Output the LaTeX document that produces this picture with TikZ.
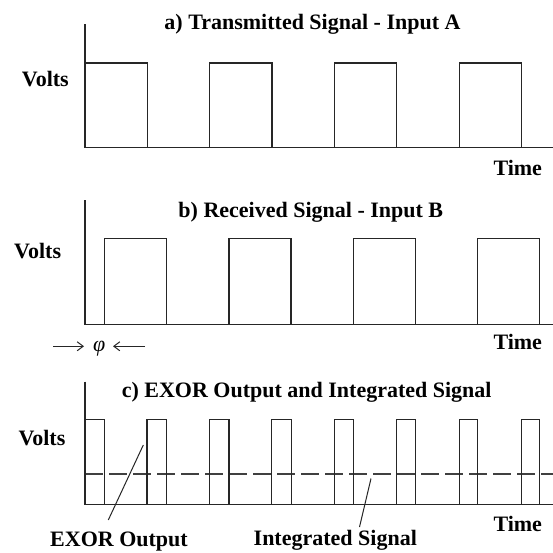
\documentclass[tikz,border=0pt]{standalone}
\usepackage{fontspec}
\setmainfont{Liberation Serif}
\usetikzlibrary{arrows.meta}
\begin{document}
\begin{tikzpicture}[x=1pt,y=-1pt,
  wave/.style={line width=1.2pt,draw=black!85,line join=miter},
  lbl/.style={font=\bfseries\fontsize{22}{26}\selectfont,inner sep=0pt,text=black},
  ptr/.style={line width=1pt,draw=black!85},
  dashline/.style={line width=1.2pt,draw=black!75,dash pattern=on 18pt off 6pt},
  phiarrow/.style={line width=1pt,draw=black!85,-{Straight Barb[length=6pt,width=9pt]}}]
\useasboundingbox (0,0) rectangle (553,552);
\fill[white] (0,0) rectangle (553,552);

% ---------- Panel a ----------
\draw[wave] (85,24) -- (85,147.7) -- (553,147.7);
\foreach \s in {85,209.7,334.4,459.1}
  \draw[wave] (\s,147.7) |- (\s+62.2,63) -- (\s+62.2,147.7);
\node[lbl,anchor=base] (titleA) at (312.5,29.3) {a) Transmitted Signal - Input A};
\node[lbl,anchor=base west] (voltsA) at (21.7,86) {Volts};
\node[lbl,anchor=base west] (timeA) at (493.3,175) {Time};

% ---------- Panel b ----------
\draw[wave] (85,200) -- (85,324.3) -- (553,324.3);
\foreach \s in {104.5,228.9,353.3,477.7}
  \draw[wave] (\s,324.3) |- (\s+62.1,238.8) -- (\s+62.1,324.3);
\node[lbl,anchor=base] (titleB) at (310.8,217) {b) Received Signal - Input B};
\node[lbl,anchor=base west] (voltsB) at (14,258) {Volts};
\node[lbl,anchor=base west] (timeB) at (493.3,349.5) {Time};
\node[font=\itshape\fontsize{22}{26}\selectfont,inner sep=0pt,anchor=base] (phi) at (99.3,351) {φ};
\coordinate (phiLa) at (53.3,346.3);
\coordinate (phiLb) at (84,346.3);
\coordinate (phiRa) at (145,346.3);
\coordinate (phiRb) at (113,346.3);
\draw[phiarrow] (phiLa) -- (phiLb);
\draw[phiarrow] (phiRa) -- (phiRb);

% ---------- Panel c ----------
\draw[dashline] (85,474) -- (553,474);
\draw[wave] (85,381.6) -- (85,504.5) -- (553,504.5);
\foreach \a/\b in {85/104.5,147/166.4,209.7/228.9,271.8/291.1,334.4/353.3,396.6/415.2,459.1/477.7,521.3/539.8}
  \draw[wave] (\a,504.5) |- (\b,419.3) -- (\b,504.5);
\node[lbl,anchor=base] (titleC) at (306.7,397) {c) EXOR Output and Integrated Signal};
\node[lbl,anchor=base west] (voltsC) at (18.3,445) {Volts};
\node[lbl,anchor=base west] (timeC) at (493.3,531) {Time};
\node[lbl,anchor=base west] (exorlbl) at (50,546.5) {EXOR Output};
\node[lbl,anchor=base west] (intlbl) at (253.5,545.5) {Integrated Signal};
\coordinate (exortip) at (143.3,445);
\coordinate (exorfoot) at (108.3,520);
\coordinate (inttip) at (371,478.5);
\coordinate (intfoot) at (359.5,527);
\draw[ptr] (exorfoot) -- (exortip);
\draw[ptr] (intfoot) -- (inttip);
\end{tikzpicture}
\end{document}
